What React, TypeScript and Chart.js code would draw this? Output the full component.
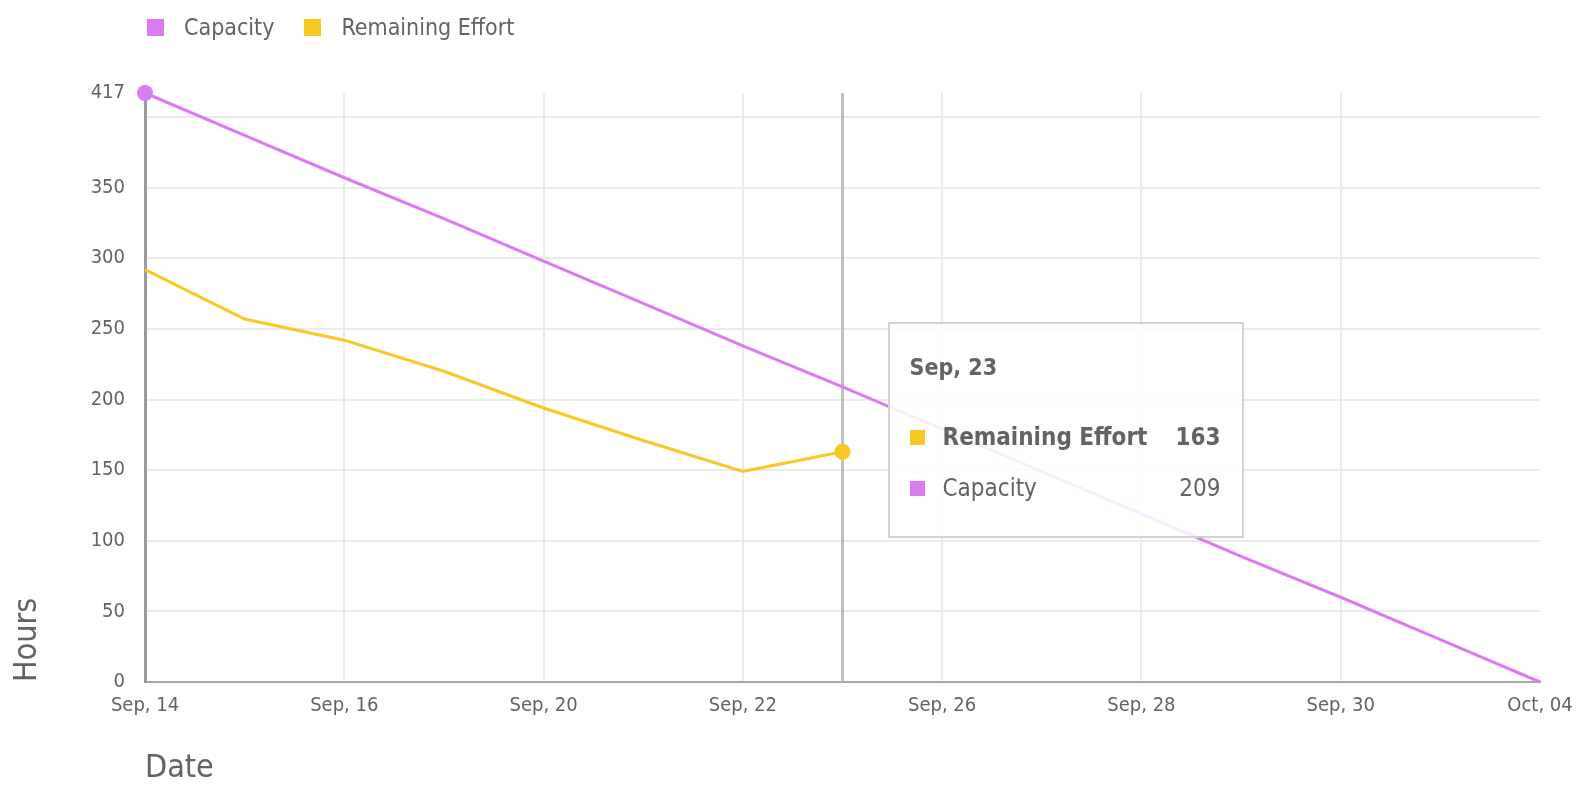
import React, { useEffect, useRef } from "react";
import { Chart, registerables } from "chart.js";

Chart.register(...registerables);

const FONT = '"DejaVu Sans Condensed", "DejaVu Sans", sans-serif';

const dates = [
  "Sep, 14", "Sep, 15", "Sep, 16", "Sep, 19", "Sep, 20", "Sep, 21", "Sep, 22", "Sep, 23",
  "Sep, 26", "Sep, 27", "Sep, 28", "Sep, 29", "Sep, 30", "Oct, 03", "Oct, 04",
];
const capacity = [417, 387, 357, 328, 298, 268, 238, 209, 179, 149, 119, 89, 60, 30, 0];
const remainingEffort = [292, 257, 242, 220, 194, 171, 149, 163, null, null, null, null, null, null, null];
const yTickValues = [0, 50, 100, 150, 200, 250, 300, 350, 400, 417];
const yHiddenLabels = [400];
const hoverIndex = 7;

const PURPLE = "#da7bf3";
const YELLOW = "#f6c923";
const TEXT = "#636363";
const GRID = "#ebebeb";

export default function App() {
  const canvasRef = useRef<HTMLCanvasElement | null>(null);
  const tipRef = useRef<HTMLDivElement | null>(null);

  useEffect(() => {
    if (!canvasRef.current) return;
    const hoverLine = {
      id: "hoverLine",
      beforeDatasetsDraw(chart: any) {
        const { ctx, chartArea, scales } = chart;
        const x = scales.x.getPixelForValue(hoverIndex);
        ctx.save();
        ctx.strokeStyle = "rgba(185,185,185,0.9)";
        ctx.lineWidth = 3;
        ctx.beginPath();
        ctx.moveTo(x, chartArea.top);
        ctx.lineTo(x, chartArea.bottom);
        ctx.stroke();
        ctx.restore();
      },
    };

    const chart = new Chart(canvasRef.current, {
      type: "line",
      data: {
        labels: dates,
        datasets: [
          {
            label: "Capacity",
            data: capacity,
            borderColor: PURPLE,
            backgroundColor: PURPLE,
            borderWidth: 3,
            pointRadius: capacity.map((_, i) => (i === 0 ? 8 : 0)),
            pointHoverRadius: 0,
            pointBorderWidth: 0,
            tension: 0,
            clip: false as any,
          },
          {
            label: "Remaining Effort",
            data: remainingEffort,
            borderColor: YELLOW,
            backgroundColor: YELLOW,
            borderWidth: 3,
            pointRadius: remainingEffort.map((_, i) => (i === hoverIndex ? 8 : 0)),
            pointHoverRadius: 0,
            pointBorderWidth: 0,
            tension: 0,
            clip: false as any,
          },
        ],
      },
      options: {
        animation: false,
        responsive: true,
        maintainAspectRatio: false,
        events: [],
        layout: { padding: { top: 93, right: 48, left: 0, bottom: 0 } },
        font: { family: FONT } as any,
        plugins: {
          legend: { display: false },
          tooltip: { enabled: false },
        },
        scales: {
          x: {
            type: "category",
            afterFit(scale: any) {
              scale.height = 104;
            },
            grid: {
              drawTicks: false,
              lineWidth: 2,
              color: (ctx: any) =>
                ctx.index % 2 === 0 && ctx.index !== 0 && ctx.index !== dates.length - 1
                  ? GRID
                  : "rgba(0,0,0,0)",
            },
            border: { color: "#a8a8a8", width: 2 },
            ticks: {
              autoSkip: false,
              maxRotation: 0,
              padding: 12,
              color: TEXT,
              font: { family: FONT, size: 20 },
              callback: (_v: any, i: number) => (i % 2 === 0 ? dates[i] : ""),
            },
            title: {
              display: true,
              text: "Date",
              align: "start",
              color: TEXT,
              font: { family: FONT, size: 32, lineHeight: 1 },
              padding: { top: 0, bottom: 1 },
            },
          },
          y: {
            type: "linear",
            min: 0,
            max: 417,
            afterFit(scale: any) {
              scale.width = 145;
            },
            afterBuildTicks(scale: any) {
              scale.ticks = yTickValues.map((v) => ({ value: v }));
            },
            grid: {
              drawTicks: false,
              lineWidth: 2,
              color: (ctx: any) =>
                ctx.tick && ctx.tick.value === 417 ? "rgba(0,0,0,0)" : GRID,
            },
            border: { color: "#9a9a9a", width: 3 },
            ticks: {
              padding: 20,
              color: TEXT,
              font: { family: FONT, size: 20 },
              callback: (v: any) => (yHiddenLabels.includes(Number(v)) ? "" : String(v)),
            },
            title: {
              display: true,
              text: "Hours",
              align: "start",
              color: TEXT,
              font: { family: FONT, size: 32, lineHeight: 1.2 },
              padding: { top: 8, bottom: 0 },
            },
          },
        },
      },
      plugins: [hoverLine],
    });

    if (tipRef.current) {
      const x = chart.scales.x.getPixelForValue(hoverIndex);
      tipRef.current.style.left = `${x + 45}px`;
    }

    return () => chart.destroy();
  }, []);

  const legendItem = (color: string, text: string) => (
    <div style={{ display: "flex", alignItems: "center", marginRight: 30 }}>
      <span style={{ width: 17, height: 17, background: color, display: "inline-block", marginRight: 20 }} />
      <span>{text}</span>
    </div>
  );

  const row = (color: string, label: string, value: any, bold: boolean, top: number) => (
    <div
      style={{
        position: "absolute",
        left: 20,
        right: 21,
        top,
        height: 34,
        display: "flex",
        alignItems: "center",
        fontWeight: bold ? "bold" : "normal",
      }}
    >
      <span style={{ width: 15, height: 15, background: color, display: "inline-block", marginRight: 18 }} />
      <span style={{ flex: 1 }}>{label}</span>
      <span>{value}</span>
    </div>
  );

  return (
    <div style={{ position: "absolute", left: 0, top: 0, width: 1588, height: 786, background: "#fff", fontFamily: FONT, color: TEXT }}>
      <canvas ref={canvasRef} />
      <div
        style={{
          position: "absolute",
          left: 147,
          top: 10,
          height: 34,
          display: "flex",
          alignItems: "center",
          fontSize: 23,
        }}
      >
        {legendItem(PURPLE, "Capacity")}
        {legendItem(YELLOW, "Remaining Effort")}
      </div>
      <div
        ref={tipRef}
        style={{
          position: "absolute",
          left: 887,
          top: 322,
          width: 356,
          height: 216,
          boxSizing: "border-box",
          border: "2px solid #d2d2d2",
          background: "rgba(255,255,255,0.86)",
          fontSize: 24,
        }}
      >
        <div style={{ position: "absolute", left: 20, top: 26, height: 34, lineHeight: "34px", fontWeight: "bold", fontSize: 23 }}>
          {dates[hoverIndex]}
        </div>
        {row(YELLOW, "Remaining Effort", remainingEffort[hoverIndex], true, 96)}
        {row(PURPLE, "Capacity", capacity[hoverIndex], false, 147)}
      </div>
    </div>
  );
}
